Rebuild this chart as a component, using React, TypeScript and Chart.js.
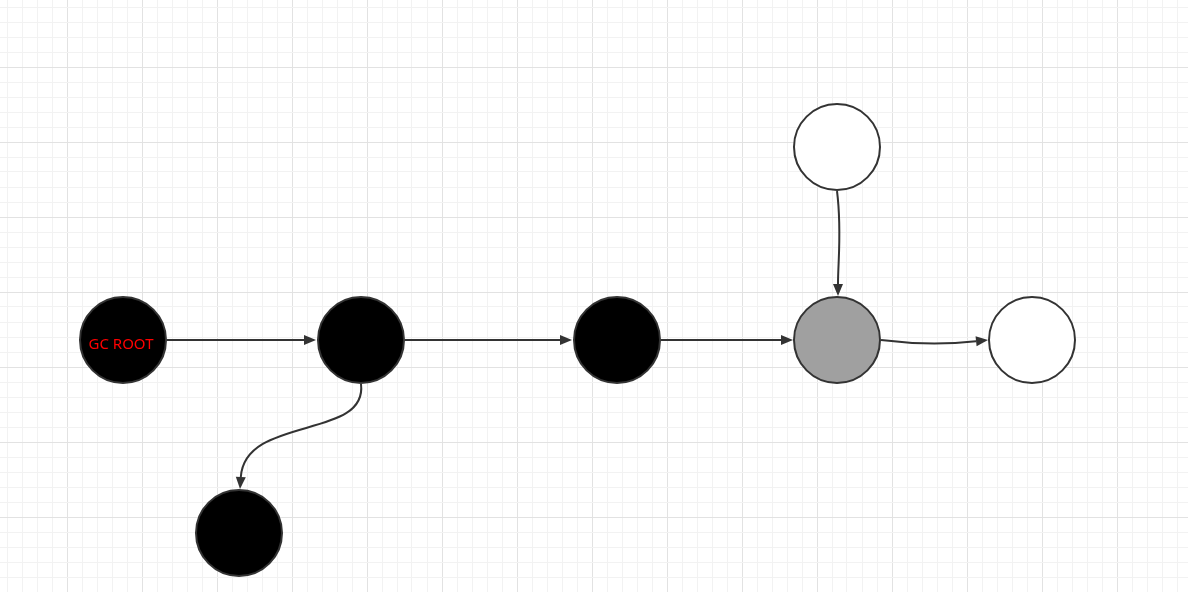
import React, { useEffect, useRef } from "react";
import Chart from "chart.js/auto";

const W = 1188;
const H = 592;

// node centres (diagram units = pixels of the reference)
const nodeX = [123, 361, 617, 837, 1032, 837, 239];
const nodeY = [340, 340, 340, 340, 340, 147, 533];
const nodeFill = ["#000000", "#000000", "#000000", "#a0a0a0", "#ffffff", "#ffffff", "#000000"];
const nodeLabels = ["GC ROOT", "", "", "", "", "", ""];

// edges: start, control1, control2, end
const edges = [
	[[167, 340], [220, 340], [270, 340], [316, 340]],
	[[405, 340], [460, 340], [520, 340], [572, 340]],
	[[661, 340], [700, 340], [750, 340], [793, 340]],
	[[837, 191], [842, 230], [838, 260], [838, 296]],
	[[881, 340], [920, 345], [950, 344], [988, 340]],
	[[361, 384], [368, 440], [245, 415], [240, 489]],
];

const gridTicks = (start: number, end: number) => {
	const t: { value: number }[] = [];
	for (let v = start; v <= end; v += 15) t.push({ value: v });
	return t;
};

const edgePlugin = {
	id: "edges",
	afterDatasetsDraw(chart: any) {
		const { ctx, scales } = chart;
		const px = (p: number[]) => [scales.x.getPixelForValue(p[0]), scales.y.getPixelForValue(p[1])];
		ctx.save();
		ctx.strokeStyle = "#333333";
		ctx.fillStyle = "#333333";
		ctx.lineWidth = 2;
		edges.forEach((e) => {
			const [a, b, c, d] = e.map(px);
			const ang = Math.atan2(d[1] - c[1], d[0] - c[0]);
			const len = 12;
			const bx = d[0] - len * Math.cos(ang);
			const by = d[1] - len * Math.sin(ang);
			ctx.beginPath();
			ctx.moveTo(a[0], a[1]);
			ctx.bezierCurveTo(b[0], b[1], c[0], c[1], bx, by);
			ctx.stroke();
			ctx.beginPath();
			ctx.moveTo(d[0], d[1]);
			ctx.lineTo(bx - 5 * Math.sin(ang), by + 5 * Math.cos(ang));
			ctx.lineTo(bx + 5 * Math.sin(ang), by - 5 * Math.cos(ang));
			ctx.closePath();
			ctx.fill();
		});
		ctx.font = "15px 'Noto Sans'";
		ctx.fillStyle = "#ff0000";
		ctx.textAlign = "center";
		ctx.textBaseline = "middle";
		nodeLabels.forEach((l, i) => {
			if (!l) return;
			const [x, y] = px([nodeX[i], nodeY[i] + 5]);
			ctx.fillText(l, x - 2, y);
		});
		ctx.restore();
	},
};

const App: React.FC = () => {
	const chartRef = useRef<HTMLCanvasElement>(null);

	useEffect(() => {
		document.body.style.margin = "0";
		if (!chartRef.current) return;
		const gridColor = (ctx: any) =>
			(ctx.tick && (ctx.tick.value - 67) % 75 === 0) ? "#e2e2e2" : "#f2f2f2";
		const chart = new Chart(chartRef.current, {
			type: "bubble",
			data: {
				datasets: [
					{
						data: nodeX.map((x, i) => ({ x, y: nodeY[i], r: 43 })),
						backgroundColor: nodeFill,
						borderColor: "#333333",
						borderWidth: 2,
					},
				],
			},
			options: {
				animation: false,
				responsive: false,
				layout: { padding: 0, autoPadding: false },
				plugins: { legend: { display: false }, tooltip: { enabled: false } },
				scales: {
					x: {
						type: "linear",
						min: 0,
						max: W,
						afterBuildTicks: (axis: any) => { axis.ticks = gridTicks(7, W); },
						ticks: { display: false },
						border: { display: false },
						grid: { color: gridColor, drawTicks: false, lineWidth: 1 },
					},
					y: {
						type: "linear",
						reverse: true,
						min: 0,
						max: H,
						afterBuildTicks: (axis: any) => { axis.ticks = gridTicks(7, H); },
						ticks: { display: false },
						border: { display: false },
						grid: { color: gridColor, drawTicks: false, lineWidth: 1 },
					},
				},
			},
			plugins: [edgePlugin],
		});
		return () => chart.destroy();
	}, []);

	return (
		<div style={{ width: W, height: H, background: "#ffffff" }}>
			<canvas ref={chartRef} width={W} height={H} style={{ width: W, height: H }} />
		</div>
	);
};

export default App;
